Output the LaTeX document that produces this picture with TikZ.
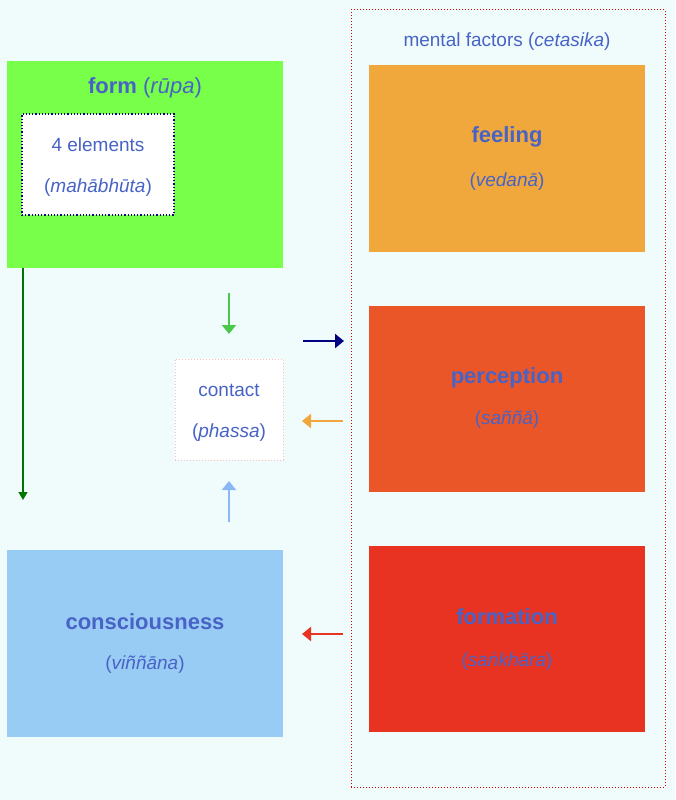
\documentclass[tikz,border=0pt]{standalone}
\usepackage{fontspec}
\setmainfont{Liberation Sans}
\usetikzlibrary{arrows.meta,positioning}
\definecolor{bgcol}{HTML}{F0FCFC}
\definecolor{txtblue}{HTML}{4863C6}
\definecolor{formgreen}{HTML}{77FF4A}
\definecolor{conscol}{HTML}{99CCF5}
\definecolor{feelcol}{HTML}{F0A83C}
\definecolor{perccol}{HTML}{EB5628}
\definecolor{formcol}{HTML}{E83323}
\begin{document}
\begin{tikzpicture}[x=1pt,y=-1pt]
    \tikzstyle{every node}=[text=txtblue,inner sep=0pt]
    \tikzstyle{box}=[draw=none,minimum width=276pt,minimum height=186pt]
    \tikzstyle{big}=[font=\fontsize{22}{26}\selectfont\bfseries]
    \tikzstyle{sub}=[font=\fontsize{19}{23}\selectfont]
    \tikzstyle{arr}=[line width=2.5pt,-{Triangle[length=9pt,width=14pt]}]
    \fill[bgcol] (0,0) rectangle (675,800);
    \useasboundingbox (0,0) rectangle (675,800);
    % left side
    \node[box,fill=formgreen,minimum height=207pt] (form) at (145,164.5) {};
    \node[big] (formt) at (145,88) {form \normalfont(\textit{rūpa})};
    \node[fill=white,draw=blue!50!black,dotted,line width=1.2pt,minimum width=152pt,minimum height=101pt] (elem) at (98,164.5) {};
    \node[sub] (elemt1) at (98,145) {4 elements};
    \node[sub] (elemt2) at (98,188) {(\textit{mahābhūta})};
    \node[fill=white,draw=pink,dotted,line width=1pt,minimum width=108pt,minimum height=101pt] (contact) at (229,409.5) {};
    \node[sub] (contactt1) at (229,390) {contact};
    \node[sub] (contactt2) at (229,433) {(\textit{phassa})};
    \node[box,fill=conscol,minimum height=187pt] (cons) at (145,643.5) {};
    \node[big] (const1) at (145,622) {consciousness};
    \node[sub] (const2) at (145,665) {(\textit{viññāna})};
    % mental factors
    \node[draw=red!85!black,dotted,line width=1pt,minimum width=314pt,minimum height=777pt] (cetasika) at (508,398.5) {};
    \node[sub] (cetasikat) at (507,42) {mental factors (\textit{cetasika})};
    \node[box,fill=feelcol] (feel) at (507,158.5) {};
    \node[big] (feelt1) at (507,137) {feeling};
    \node[sub] (feelt2) at (507,182) {(\textit{vedanā})};
    \node[box,fill=perccol] (perc) at (507,399) {};
    \node[big] (perct1) at (507,378) {perception};
    \node[sub] (perct2) at (507,420) {(\textit{saññā})};
    \node[box,fill=formcol] (fmt) at (507,639) {};
    \node[big] (fmtt1) at (507,617) {formation};
    \node[sub] (fmtt2) at (507,662) {(\textit{saṅkhāra})};
    % arrows
    \coordinate (a1) at (23,268); \coordinate (a2) at (23,500);
    \coordinate (b1) at (229,293); \coordinate (b2) at (229,334);
    \coordinate (c1) at (229,522); \coordinate (c2) at (229,481);
    \coordinate (d1) at (303,341); \coordinate (d2) at (344,341);
    \coordinate (e1) at (343,421); \coordinate (e2) at (302,421);
    \coordinate (f1) at (343,634); \coordinate (f2) at (302,634);
    \draw[arr,line width=1.5pt,green!45!black,-{Triangle[length=8pt,width=9pt]}] (a1) -- (a2);
    \draw[arr,green!70!black!70] (b1) -- (b2);
    \draw[arr,conscol!90!blue] (c1) -- (c2);
    \draw[arr,blue!50!black] (d1) -- (d2);
    \draw[arr,feelcol] (e1) -- (e2);
    \draw[arr,formcol] (f1) -- (f2);
\end{tikzpicture}
\end{document}
